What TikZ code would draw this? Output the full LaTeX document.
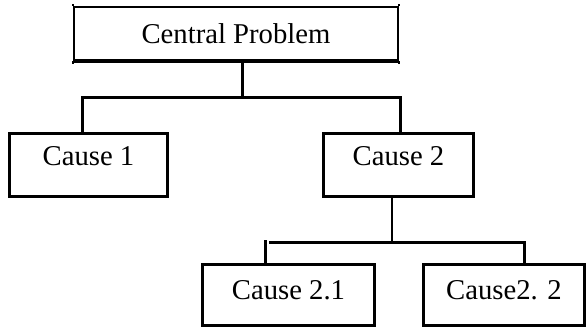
\documentclass[tikz,border=0pt]{standalone}
\usepackage{fontspec}
\setmainfont{Liberation Serif}
\begin{document}
\begin{tikzpicture}[x=1pt,y=-1pt,
  box/.style={draw, line width=3pt, inner sep=0pt, font=\fontsize{28.7}{30}\selectfont},
  conn/.style={line width=3pt},
  thinconn/.style={line width=1.5pt}]
\useasboundingbox (0,0) rectangle (587,330);
% nodes
\node[box, line width=2pt, minimum width=324pt, minimum height=53pt] (central) at (236,33.5) {Central Problem};
\node[box, minimum width=158pt, minimum height=63pt, text height=10pt, text depth=10pt] (cause1) at (88.5,165) {Cause 1};
\node[box, minimum width=150pt, minimum height=63pt, text height=10pt, text depth=10pt] (cause2) at (398.5,165) {Cause 2};
\node[box, minimum width=172pt, minimum height=61pt, text height=14pt, text depth=6pt] (cause21) at (288.5,295) {Cause 2.1};
\node[box, minimum width=161pt, minimum height=61pt, text height=14pt, text depth=6pt] (cause22) at (504,295) {Cause2. 2};
% central box details
\draw[line width=3pt] (central.south west) -- (central.south east);
\draw[line width=2pt] (central.south west) -- ++(0,3);
\draw[line width=2pt] (central.south east) -- ++(0,3);
\draw[line width=2pt] (central.north west) -- ++(0,-2);
\draw[line width=2pt] (central.north east) -- ++(0,-2);
% upper connectors
\coordinate (j1) at (242,97);
\coordinate (j1l) at (82,97);
\coordinate (j1r) at (400,97);
\draw[conn] (central.south -| j1) -- (j1);
\draw[conn] (cause1.north -| j1l) |- (j1) -| (cause2.north -| j1r);
% lower connectors
\coordinate (j2) at (392,242);
\coordinate (j2l) at (269,242);
\coordinate (j2r) at (524,242);
\coordinate (t2l) at (265,240);
\draw[thinconn] ([yshift=1pt]cause2.south -| j2) -- (j2);
\draw[conn] (j2l) -- (j2) -| (cause22.north -| j2r);
\draw[conn] (t2l) -- (cause21.north -| t2l);
\end{tikzpicture}
\end{document}
